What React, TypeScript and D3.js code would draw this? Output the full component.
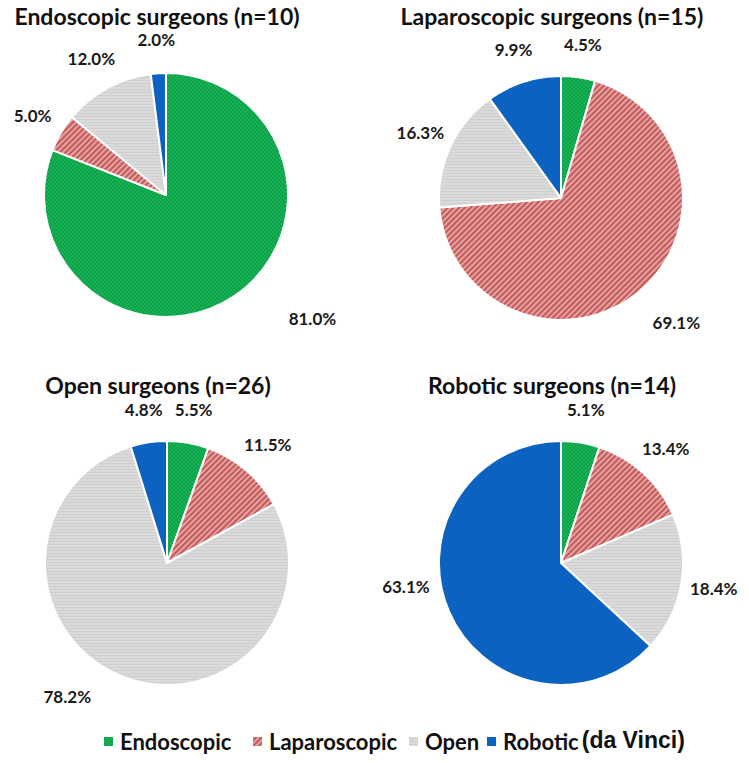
import React, { useEffect, useRef } from 'react';
import * as d3 from 'd3';

const categories = ['Endoscopic', 'Laparoscopic', 'Open', 'Robotic'];
const titles = [
    'Endoscopic surgeons (n=10)',
    'Laparoscopic surgeons (n=15)',
    'Open surgeons (n=26)',
    'Robotic surgeons (n=14)',
];
const endoscopicValues = [81.0, 5.0, 12.0, 2.0];
const laparoscopicValues = [4.5, 69.1, 16.3, 9.9];
const openValues = [5.5, 11.5, 78.2, 4.8];
const roboticValues = [5.1, 13.4, 18.4, 63.1];
const allValues = [endoscopicValues, laparoscopicValues, openValues, roboticValues];

// layout
const W = 749;
const H = 763;
const R = 122;
const centers: [number, number][] = [
    [166, 195],
    [561, 198],
    [167, 563],
    [561, 563],
];
// label nudges [degrees, extra distance] for the big slices (Excel best fit)
const labelNudge: [number, number][][] = [
    [[-15.5, 37], [0, 0], [0, 0], [0, 0]],
    [[0, 0], [-3.6, 15], [0, 0], [0, 0]],
    [[0, 0], [0, 0], [14.7, 12], [0, 0]],
    [[0, 0], [0, 0], [0, 0], [14.6, 2]],
];
const fills = ['url(#patGreen)', 'url(#patRed)', 'url(#patGray)', '#0b62c0'];
const legendX = [104, 253, 409, 487];

export default function App() {
    const svgRef = useRef<SVGSVGElement | null>(null);

    useEffect(() => {
        if (!svgRef.current) return;
        const svg = d3.select(svgRef.current);
        svg.selectAll('*').remove();

        const defs = svg.append('defs');
        const green = defs.append('pattern').attr('id', 'patGreen').attr('patternUnits', 'userSpaceOnUse')
            .attr('width', 4).attr('height', 4);
        green.append('rect').attr('width', 4).attr('height', 4).attr('fill', '#16b254');
        green.append('rect').attr('width', 2).attr('height', 2).attr('fill', '#0fa14a');
        green.append('rect').attr('x', 2).attr('y', 2).attr('width', 2).attr('height', 2).attr('fill', '#0fa14a');

        const red = defs.append('pattern').attr('id', 'patRed').attr('patternUnits', 'userSpaceOnUse')
            .attr('width', 4).attr('height', 4).attr('patternTransform', 'rotate(45)');
        red.append('rect').attr('width', 4).attr('height', 4).attr('fill', '#c65b5b');
        red.append('rect').attr('width', 1.6).attr('height', 4).attr('fill', '#eab3b3');

        const gray = defs.append('pattern').attr('id', 'patGray').attr('patternUnits', 'userSpaceOnUse')
            .attr('width', 4).attr('height', 3);
        gray.append('rect').attr('width', 4).attr('height', 3).attr('fill', '#dadada');
        gray.append('rect').attr('y', 2).attr('width', 4).attr('height', 1).attr('fill', '#cfcfcf');

        const pie = d3.pie<number>().sort(null).value((d) => d);
        const arc = d3.arc<d3.PieArcDatum<number>>().innerRadius(0).outerRadius(R);

        allValues.forEach((values, i) => {
            const [cx, cy] = centers[i];
            const g = svg.append('g').attr('transform', `translate(${cx},${cy})`);
            const arcs = pie(values);

            g.selectAll('path.slice')
                .data(arcs)
                .enter()
                .append('path')
                .attr('class', 'slice')
                .attr('d', arc)
                .attr('fill', (_, j) => fills[j])
                .attr('stroke', '#ffffff')
                .attr('stroke-width', 2)
                .attr('stroke-linejoin', 'round');

            g.selectAll('text.lbl')
                .data(arcs)
                .enter()
                .append('text')
                .attr('class', 'lbl')
                .attr('transform', (d, j) => {
                    const [da, dd] = labelNudge[i][j];
                    const a = (d.startAngle + d.endAngle) / 2 + (da * Math.PI) / 180;
                    const dist = R + 33 + dd;
                    return `translate(${dist * Math.sin(a)},${-dist * Math.cos(a)})`;
                })
                .attr('text-anchor', 'middle')
                .attr('dy', '0.35em')
                .attr('font-family', 'Lato, sans-serif')
                .attr('font-weight', 'bold')
                .attr('font-size', 17)
                .attr('fill', '#1a1a1a')
                .text((d) => `${d.data.toFixed(1)}%`);

            svg.append('text')
                .attr('x', cx - 9)
                .attr('y', i < 2 ? 25 : 394)
                .attr('text-anchor', 'middle')
                .attr('font-family', 'Lato, sans-serif')
                .attr('font-weight', 'bold')
                .attr('font-size', 23)
                .attr('fill', '#111111')
                .text(titles[i]);
        });

        const legend = svg.append('g').attr('transform', 'translate(0,742)');
        categories.forEach((c, j) => {
            const item = legend.append('g').attr('transform', `translate(${legendX[j]},0)`);
            item.append('rect').attr('x', 0).attr('y', -5).attr('width', 9).attr('height', 9).attr('fill', fills[j]);
            const t = item.append('text')
                .attr('x', 16)
                .attr('dy', '0.35em')
                .attr('font-family', 'Lato, sans-serif')
                .attr('font-weight', 'bold')
                .attr('font-size', 22)
                .attr('fill', '#111111')
                .text(c);
            if (c === 'Robotic') {
                t.append('tspan')
                    .attr('dx', 3)
                    .attr('dy', -2)
                    .attr('font-family', 'Liberation Sans, Arial, sans-serif')
                    .attr('font-weight', 'bold')
                    .attr('font-size', 23)
                    .text('(da Vinci)');
            }
        });
    }, []);

    return (
        <svg
            ref={svgRef}
            width={W}
            height={H}
            style={{ position: 'absolute', left: 0, top: 0, background: '#ffffff' }}
        />
    );
}
